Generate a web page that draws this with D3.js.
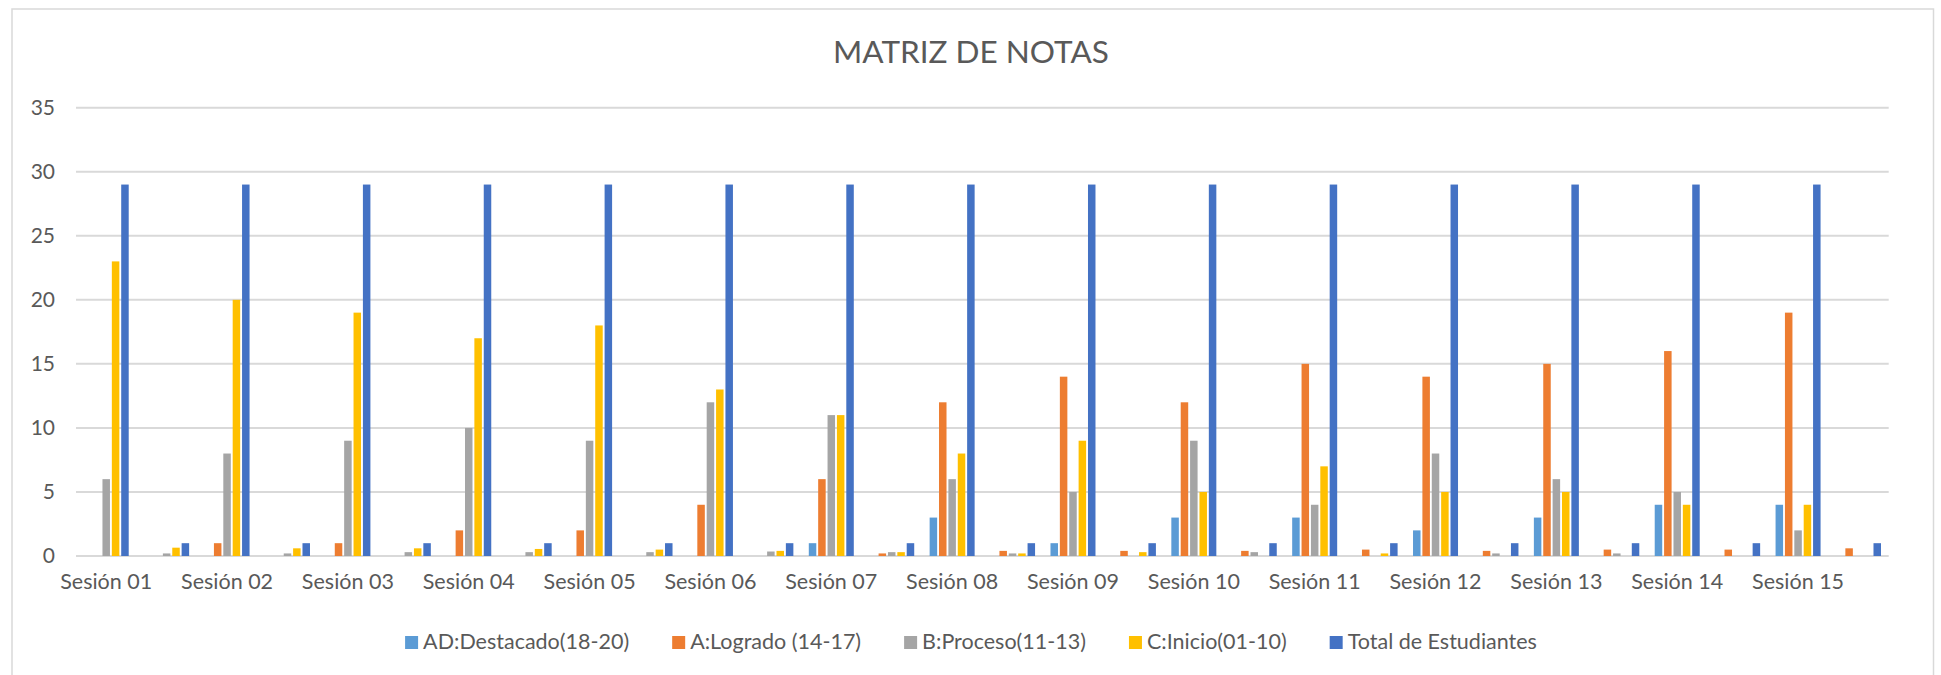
<!DOCTYPE html>
<html>
<head>
<meta charset="utf-8">
<script src="https://cdn.jsdelivr.net/npm/d3@7"></script>
<style>
  body { margin: 0; background: #fff; }
  text { font-family: Lato, "Open Sans", sans-serif; fill: #595959; }
</style>
</head>
<body>
<div id="chart"></div>
<script>
// Matriz de notas: 15 sessions, each followed by its share row (fraction of students)
const sessions = ['Sesión 01', 'Sesión 02', 'Sesión 03', 'Sesión 04', 'Sesión 05',
  'Sesión 06', 'Sesión 07', 'Sesión 08', 'Sesión 09', 'Sesión 10',
  'Sesión 11', 'Sesión 12', 'Sesión 13', 'Sesión 14', 'Sesión 15'];

const seriesNames = ['AD:Destacado(18-20)', 'A:Logrado (14-17)', 'B:Proceso(11-13)',
  'C:Inicio(01-10)', 'Total de Estudiantes'];

// counts per session
const destacado = [0, 0, 0, 0, 0, 0, 1, 3, 1, 3, 3, 2, 3, 4, 4];
const logrado = [0, 1, 1, 2, 2, 4, 6, 12, 14, 12, 15, 14, 15, 16, 19];
const proceso = [6, 8, 9, 10, 9, 12, 11, 6, 5, 9, 4, 8, 6, 5, 2];
const inicio = [23, 20, 19, 17, 18, 13, 11, 8, 9, 5, 7, 5, 5, 4, 4];
const total = [29, 29, 29, 29, 29, 29, 29, 29, 29, 29, 29, 29, 29, 29, 29];

// share rows (as they show in the chart)
const destacadoPct = [0, 0, 0, 0, 0, 0, 0, 0, 0, 0, 0, 0, 0, 0, 0];
const logradoPct = [0, 0, 0, 0, 0, 0, 0.2, 0.4, 0.4, 0.4, 0.5, 0.4, 0.5, 0.5, 0.6];
const procesoPct = [0.2, 0.2, 0.3, 0.3, 0.3, 0.35, 0.3, 0.2, 0, 0.3, 0, 0.2, 0.2, 0, 0];
const inicioPct = [0.65, 0.6, 0.6, 0.55, 0.5, 0.4, 0.3, 0.2, 0.3, 0, 0.2, 0, 0, 0, 0];
const totalPct = [1, 1, 1, 1, 1, 1, 1, 1, 1, 1, 1, 1, 1, 1, 1];

const yTicks = [0, 5, 10, 15, 20, 25, 30, 35];
const colors = ['#5b9bd5', '#ed7d31', '#a5a5a5', '#ffc000', '#4472c4'];

// build the 30 category rows
const rows = [];
sessions.forEach((s, i) => {
  rows.push({ label: s, values: [destacado[i], logrado[i], proceso[i], inicio[i], total[i]] });
  rows.push({ label: '', values: [destacadoPct[i], logradoPct[i], procesoPct[i], inicioPct[i], totalPct[i]] });
});

const W = 1941;
const H = 675;
const margin = { top: 107.7, right: W - 1888.7, bottom: H - 556, left: 76 };

const svg = d3.select('#chart').append('svg')
  .attr('width', W)
  .attr('height', H);

// chart border
svg.append('rect')
  .attr('x', 12).attr('y', 9)
  .attr('width', 1921.5).attr('height', 680)
  .attr('fill', 'none')
  .attr('stroke', '#d9d9d9')
  .attr('stroke-width', 1.5);

const x0 = d3.scaleBand()
  .domain(d3.range(rows.length))
  .range([margin.left, W - margin.right]);

const x1 = d3.scaleBand()
  .domain(d3.range(seriesNames.length))
  .range([x0.bandwidth() / 2 - 22.5, x0.bandwidth() / 2 + 22.5])
  .paddingInner(0.2);

const y = d3.scaleLinear()
  .domain([0, 35])
  .range([H - margin.bottom, margin.top]);

// gridlines
svg.append('g')
  .selectAll('line')
  .data(yTicks)
  .join('line')
  .attr('x1', margin.left)
  .attr('x2', W - margin.right)
  .attr('y1', (d) => y(d))
  .attr('y2', (d) => y(d))
  .attr('stroke', '#d9d9d9')
  .attr('stroke-width', 2);

// y axis labels
const yAxis = d3.axisLeft(y).tickValues(yTicks).tickSize(0).tickPadding(21);
svg.append('g')
  .attr('transform', `translate(${margin.left},0)`)
  .call(yAxis)
  .call((g) => g.select('.domain').remove())
  .call((g) => g.selectAll('text').style('font-size', '21px').attr('fill', '#595959'));

// x axis labels (only session rows carry text)
const xAxis = d3.axisBottom(x0)
  .tickSize(0)
  .tickPadding(18)
  .tickFormat((i) => rows[i].label);
svg.append('g')
  .attr('transform', `translate(0,${H - margin.bottom})`)
  .call(xAxis)
  .call((g) => g.select('.domain').remove())
  .call((g) => g.selectAll('text').style('font-size', '21.5px').attr('fill', '#595959'));

// bars
const groups = svg.append('g')
  .selectAll('g')
  .data(rows)
  .join('g')
  .attr('transform', (d, i) => `translate(${x0(i)},0)`);

groups.selectAll('rect')
  .data((d) => d.values.map((v, k) => ({ k, v })))
  .join('rect')
  .attr('x', (d) => x1(d.k))
  .attr('width', x1.bandwidth())
  .attr('y', (d) => y(d.v))
  .attr('height', (d) => y(0) - y(d.v))
  .attr('fill', (d) => colors[d.k]);

// title
svg.append('text')
  .attr('x', 971)
  .attr('y', 63)
  .attr('text-anchor', 'middle')
  .style('font-size', '31.5px')
  .text('MATRIZ DE NOTAS');

// legend
const legend = svg.append('g');
const items = legend.selectAll('g')
  .data(seriesNames)
  .join('g');
items.append('rect')
  .attr('width', 13)
  .attr('height', 13)
  .attr('y', -13)
  .attr('fill', (d, i) => colors[i]);
items.append('text')
  .attr('x', 18)
  .style('font-size', '21.5px')
  .text((d) => d);

let lx = 0;
items.each(function () {
  const w = 18 + this.querySelector('text').getComputedTextLength();
  d3.select(this).attr('transform', `translate(${lx},0)`);
  lx += w + 43;
});
lx -= 43;
legend.attr('transform', `translate(${971 - lx / 2},649)`);
</script>
</body>
</html>
